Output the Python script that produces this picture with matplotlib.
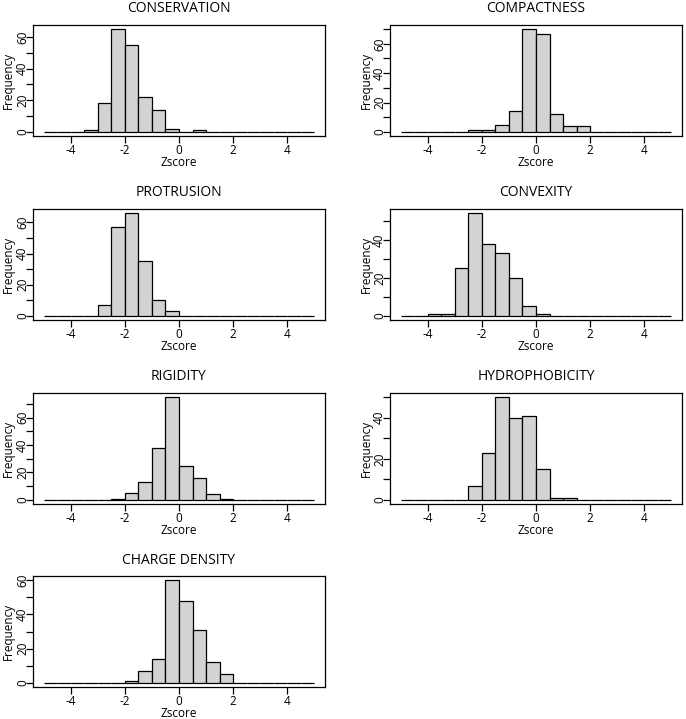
import numpy as np
import matplotlib
matplotlib.use("Agg")
import matplotlib.pyplot as plt
from matplotlib.ticker import MultipleLocator

plt.rcParams['font.family'] = ['Open Sans', 'DejaVu Sans']

# bins of width 0.5 from -5 to 5 (20 bins)
edges = np.arange(-5, 5.01, 0.5)

conservation = [0, 0, 0, 1, 18, 65, 55, 22, 14, 2, 0, 1, 0, 0, 0, 0, 0, 0, 0, 0]
compactness = [0, 0, 0, 0, 0, 1, 1, 5, 14, 70, 67, 12, 4, 4, 0, 0, 0, 0, 0, 0]
protrusion = [0, 0, 0, 0, 7, 57, 66, 35, 10, 3, 0, 0, 0, 0, 0, 0, 0, 0, 0, 0]
convexity = [0, 0, 1, 1, 25, 54, 38, 33, 20, 5, 1, 0, 0, 0, 0, 0, 0, 0, 0, 0]
rigidity = [0, 0, 0, 0, 0, 1, 5, 13, 38, 75, 25, 16, 4, 1, 0, 0, 0, 0, 0, 0]
hydrophobicity = [0, 0, 0, 0, 0, 7, 23, 50, 40, 41, 15, 1, 1, 0, 0, 0, 0, 0, 0, 0]
charge_density = [0, 0, 0, 0, 0, 0, 1, 7, 14, 60, 48, 31, 12, 5, 0, 0, 0, 0, 0, 0]

titles = ["CONSERVATION", "COMPACTNESS", "PROTRUSION", "CONVEXITY",
          "RIGIDITY", "HYDROPHOBICITY", "CHARGE DENSITY"]
counts = [conservation, compactness, protrusion, convexity,
          rigidity, hydrophobicity, charge_density]

W, H = 686, 719
fig = plt.figure(figsize=(W / 100, H / 100), dpi=100)

col_x = [33, 390]
row_top = [25, 209, 393, 576]
aw, ah = 292, 111
ylab_x = [-25 / aw, -24 / aw]

for i, (title, c) in enumerate(zip(titles, counts)):
    r, k = divmod(i, 2)
    ax = fig.add_axes([col_x[k] / W, 1 - (row_top[r] + ah) / H, aw / W, ah / H])
    ax.bar(edges[:-1], c, width=0.5, align='edge', color='#d3d3d3',
           edgecolor='black', linewidth=0.9)
    top = max(c)
    ax.set_xlim(-5 - 0.4, 5 + 0.4)
    ax.set_ylim(-0.04 * top, top * 1.04)
    ax.set_xticks([-4, -2, 0, 2, 4])
    ax.set_xticklabels(['-4', '-2', '0', '2', '4'])
    yt = list(range(0, top + 1, 20))
    ax.set_yticks(yt)
    ax.set_yticklabels([str(v) for v in yt], rotation=90, va='center', ha='center')
    ax.yaxis.set_minor_locator(MultipleLocator(10))
    ax.tick_params(which='both', direction='out', length=5, width=0.9,
                   labelsize=8.5)
    ax.tick_params(axis='x', pad=1)
    ax.tick_params(axis='y', pad=2.5)
    for s in ax.spines.values():
        s.set_linewidth(0.9)
    ax.set_title(title, fontsize=10, pad=9)
    ax.set_xlabel('Zscore', fontsize=8.5, labelpad=-1)
    ax.set_ylabel('Frequency', fontsize=8.5, va='center')
    ax.yaxis.set_label_coords(ylab_x[k], 0.5)

fig.savefig("out.png", dpi=100)
